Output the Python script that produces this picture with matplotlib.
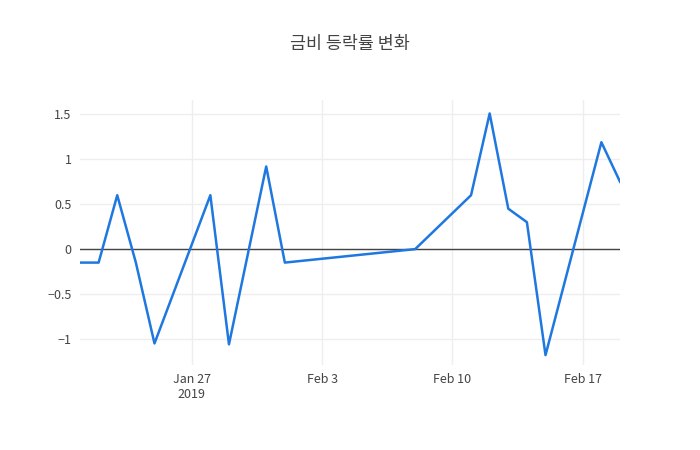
import matplotlib
matplotlib.use("Agg")
import matplotlib.pyplot as plt
import matplotlib.dates as mdates
import numpy as np
import pandas as pd

plt.rcParams['font.family'] = ['Noto Sans CJK KR', 'DejaVu Sans']

dates = ["2019-01-21","2019-01-22","2019-01-23","2019-01-24","2019-01-25","2019-01-28",
         "2019-01-29","2019-01-31","2019-02-01","2019-02-08","2019-02-11","2019-02-12",
         "2019-02-13","2019-02-14","2019-02-15","2019-02-18","2019-02-19"]
values = [-0.15,-0.15,0.6,-0.15,-1.05,0.6,-1.06,0.92,-0.15,0.0,0.6,1.51,0.45,0.3,-1.18,1.19,0.75]
x = pd.to_datetime(dates)

fig = plt.figure(figsize=(7, 4.5), dpi=100)
ax = fig.add_axes([80/700, 1-365/450, 540/700, 265/450])
ax.plot(x, values, color='#1f77e0', lw=1.8, zorder=3)
ax.set_xlim(x[0], x[-1])
ax.set_ylim(-1.29, 1.66)
ax.axhline(0, color='#444444', lw=1, zorder=2)
ax.set_yticks([-1, -0.5, 0, 0.5, 1, 1.5])
ax.set_yticklabels(['−1', '−0.5', '0', '0.5', '1', '1.5'])
ticks = pd.to_datetime(["2019-01-27","2019-02-03","2019-02-10","2019-02-17"])
ax.set_xticks(ticks)
ax.set_xticklabels(["Jan 27\n2019", "Feb 3", "Feb 10", "Feb 17"])
ax.grid(True, color='#eeeeee', lw=1)
for s in ax.spines.values():
    s.set_visible(False)
ax.tick_params(length=0, labelsize=9, colors='#444444', pad=6)
fig.text(0.5, 1-44/450, "금비 등락률 변화", ha='center', va='center', fontsize=12.5, color='#444444')
fig.savefig("out.png", dpi=100)
